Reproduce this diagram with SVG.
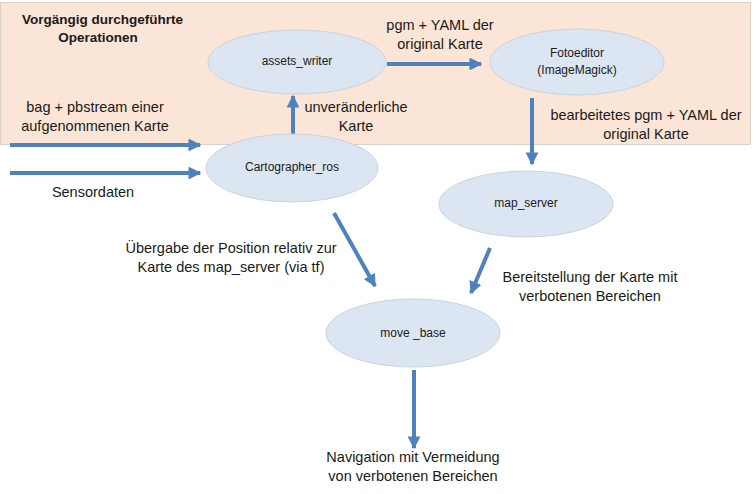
<svg xmlns="http://www.w3.org/2000/svg" width="756" height="494" viewBox="0 0 756 494">
<defs>
<marker id="ah" viewBox="0 0 10 10" refX="9" refY="5" markerWidth="3.2" markerHeight="3.2" orient="auto" markerUnits="strokeWidth">
<path d="M0,0 L10,5 L0,10 z" fill="#4F81BD"/>
</marker>
<style>
.conn{stroke:#4F81BD;stroke-width:4;fill:none;marker-end:url(#ah)}
.node{fill:#DCE6F2;stroke:#C9D3DF;stroke-width:1}
.t{font-family:"Liberation Sans",Arial,sans-serif;font-size:14.5px;fill:#1a1a1a;text-anchor:middle}
.n{font-family:"Liberation Sans",Arial,sans-serif;font-size:12px;fill:#1a1a1a;text-anchor:middle}
.b{font-family:"Liberation Sans",Arial,sans-serif;font-size:13.5px;font-weight:bold;fill:#1a1a1a}
</style>
</defs>
<rect width="756" height="494" fill="#FFFFFF"/>
<g id="background">
<rect x="0.5" y="2.5" width="750" height="142" fill="#FBE5D6" stroke="#D9D2CC" stroke-width="1"/>
<text class="b" x="22" y="24">Vorgängig durchgeführte</text>
<text class="b" x="98" y="42" text-anchor="middle">Operationen</text>
</g>
<g id="connectors">
<line class="conn" x1="10" y1="145" x2="200" y2="145"/>
<line class="conn" x1="10" y1="173" x2="200" y2="173"/>
<line class="conn" x1="293" y1="134" x2="293" y2="96"/>
<line class="conn" x1="387" y1="64" x2="481" y2="64"/>
<line class="conn" x1="532" y1="98" x2="532" y2="164"/>
<line class="conn" x1="334" y1="213" x2="375" y2="286"/>
<line class="conn" x1="490" y1="248" x2="471" y2="293"/>
<line class="conn" x1="414" y1="370" x2="414" y2="448"/>
</g>
<g id="labels">
<text class="t" x="95" y="112">bag + pbstream einer</text>
<text class="t" x="95" y="131">aufgenommenen Karte</text>
<text class="t" x="93" y="197">Sensordaten</text>
<text class="t" x="356" y="112">unveränderliche</text>
<text class="t" x="356" y="131">Karte</text>
<text class="t" x="440" y="30">pgm + YAML der</text>
<text class="t" x="440" y="49">original Karte</text>
<text class="t" x="646" y="120">bearbeitetes pgm + YAML der</text>
<text class="t" x="646" y="139">original Karte</text>
<text class="t" x="231" y="253">Übergabe der Position relativ zur</text>
<text class="t" x="231" y="272">Karte des map_server (via tf)</text>
<text class="t" x="590" y="282">Bereitstellung der Karte mit</text>
<text class="t" x="590" y="301">verbotenen Bereichen</text>
<text class="t" x="413" y="462">Navigation mit Vermeidung</text>
<text class="t" x="413" y="481">von verbotenen Bereichen</text>
</g>
<g id="assets_writer">
<ellipse class="node" cx="297" cy="62" rx="89" ry="32"/>
<text class="n" x="297" y="65">assets_writer</text>
</g>
<g id="fotoeditor">
<ellipse class="node" cx="577" cy="62" rx="87" ry="33"/>
<text class="n" x="577" y="57">Fotoeditor</text>
<text class="n" x="577" y="74">(ImageMagick)</text>
</g>
<g id="cartographer_ros">
<ellipse class="node" cx="292" cy="168" rx="86" ry="34"/>
<text class="n" x="292" y="171">Cartographer_ros</text>
</g>
<g id="map_server">
<ellipse class="node" cx="526" cy="204" rx="87" ry="33"/>
<text class="n" x="526" y="207">map_server</text>
</g>
<g id="move_base">
<ellipse class="node" cx="413" cy="333" rx="87" ry="34"/>
<text class="n" x="413" y="337">move _base</text>
</g>
</svg>
